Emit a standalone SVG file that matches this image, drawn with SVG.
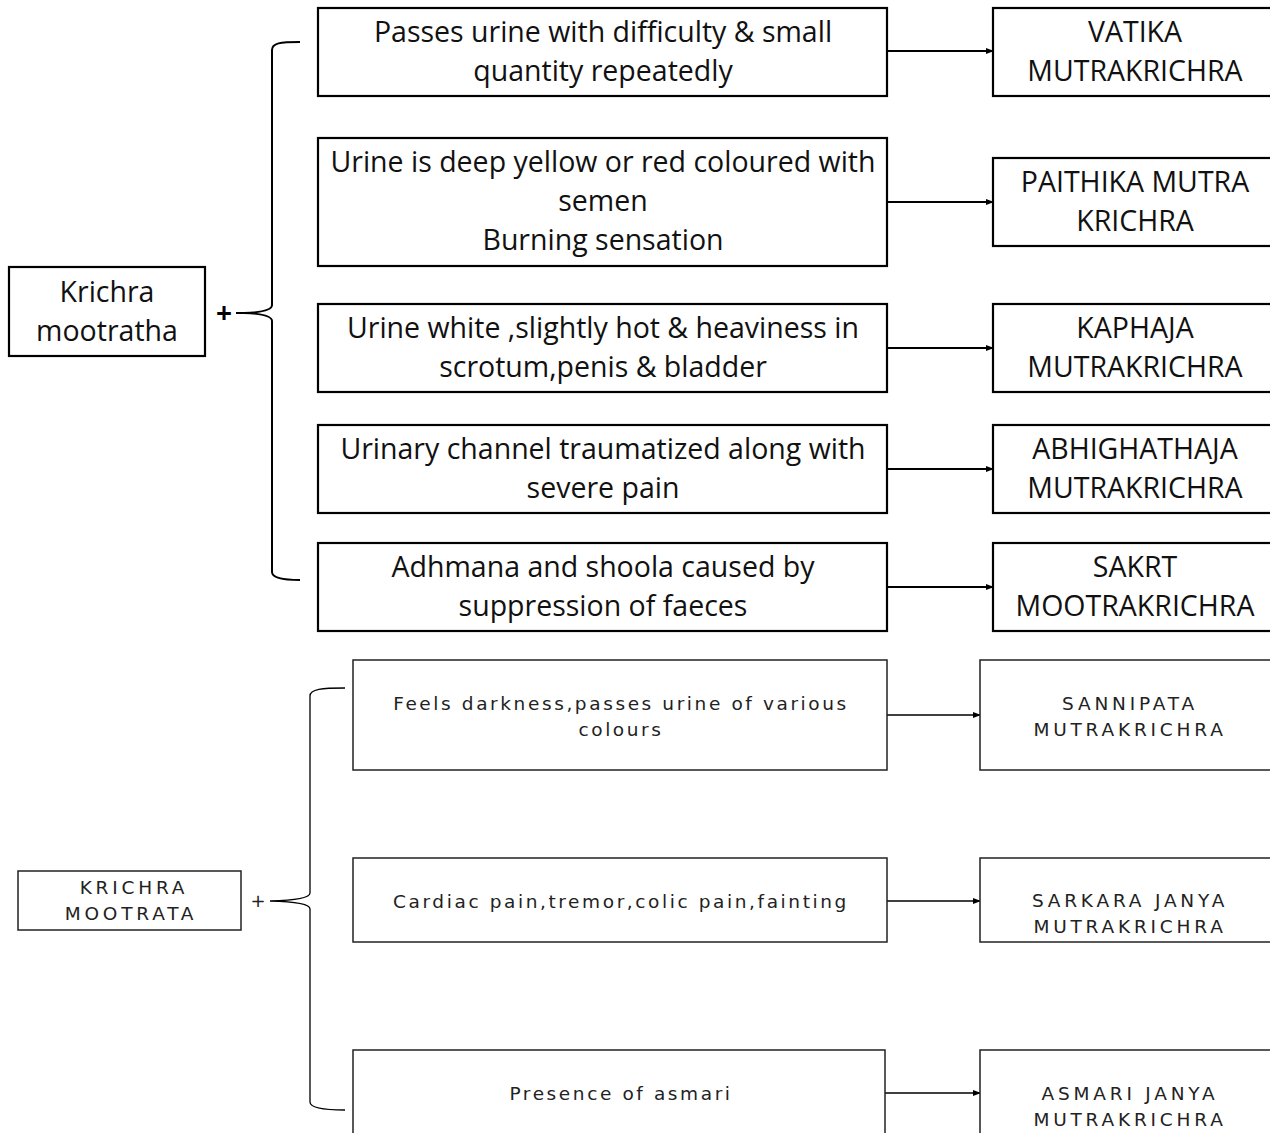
<svg xmlns="http://www.w3.org/2000/svg" width="1270" height="1133" viewBox="0 0 1270 1133">
<defs>
<marker id="ah" markerWidth="8" markerHeight="8" refX="7" refY="4" orient="auto" markerUnits="userSpaceOnUse"><path d="M0,1 L8,4 L0,7 Z" fill="#000"/></marker>
<style>
.b1{fill:#fff;stroke:#000;stroke-width:2.2}
.b2{fill:#fff;stroke:#222;stroke-width:1.5}
.t1{font-family:"Open Sans","Noto Sans",sans-serif;font-size:28.5px;fill:#111;text-anchor:middle}
.t2{font-family:"DejaVu Sans",sans-serif;font-size:18.5px;fill:#222;text-anchor:middle;letter-spacing:2.6px}
.t3{font-family:"DejaVu Sans",sans-serif;font-size:18.5px;fill:#222;text-anchor:middle;letter-spacing:3.8px}
.c1{stroke:#000;stroke-width:2;fill:none}
.c2{stroke:#000;stroke-width:1.3;fill:none}
</style>
</defs>
<rect width="1270" height="1133" fill="#fff"/>
<g id="connectors">
<path class="c1" d="M300,42 C280,42 272,43 272,50 L272,305 Q272,312 244,313 Q272,314 272,321 L272,572 Q272,580 300,580"/>
<line class="c1" x1="236" y1="313" x2="246" y2="313"/>
<line class="c1" x1="887" y1="51" x2="993" y2="51" marker-end="url(#ah)"/>
<line class="c1" x1="887" y1="202" x2="993" y2="202" marker-end="url(#ah)"/>
<line class="c1" x1="887" y1="348" x2="993" y2="348" marker-end="url(#ah)"/>
<line class="c1" x1="887" y1="469" x2="993" y2="469" marker-end="url(#ah)"/>
<line class="c1" x1="887" y1="587" x2="993" y2="587" marker-end="url(#ah)"/>
<path class="c2" d="M345,688 C322,688 310,689 310,696 L310,893 Q310,900 270,901 Q310,902 310,909 L310,1102 Q310,1110 345,1110"/>
<line class="c2" x1="887" y1="715" x2="980" y2="715" marker-end="url(#ah)"/>
<line class="c2" x1="887" y1="901" x2="980" y2="901" marker-end="url(#ah)"/>
<line class="c2" x1="885" y1="1093" x2="980" y2="1093" marker-end="url(#ah)"/>
</g>
<g id="n-krichra-mootratha"><rect class="b1" x="9" y="267" width="196" height="89"/><text class="t1" x="107" y="302">Krichra</text><text class="t1" x="107" y="341">mootratha</text></g>
<text x="224" y="323" font-family="Open Sans,sans-serif" font-size="28" font-weight="bold" text-anchor="middle">+</text>
<g id="n-s1"><rect class="b1" x="318" y="8" width="569" height="88"/><text class="t1" x="603" y="42">Passes urine with difficulty &amp; small</text><text class="t1" x="603" y="81">quantity repeatedly</text></g>
<g id="n-s2"><rect class="b1" x="318" y="138" width="569" height="128"/><text class="t1" x="603" y="172">Urine is deep yellow or red coloured with</text><text class="t1" x="603" y="211">semen</text><text class="t1" x="603" y="250">Burning sensation</text></g>
<g id="n-s3"><rect class="b1" x="318" y="304" width="569" height="88"/><text class="t1" x="603" y="338">Urine white ,slightly hot &amp; heaviness in</text><text class="t1" x="603" y="377">scrotum,penis &amp; bladder</text></g>
<g id="n-s4"><rect class="b1" x="318" y="425" width="569" height="88"/><text class="t1" x="603" y="459">Urinary channel traumatized along with</text><text class="t1" x="603" y="498">severe pain</text></g>
<g id="n-s5"><rect class="b1" x="318" y="543" width="569" height="88"/><text class="t1" x="603" y="577">Adhmana and shoola caused by</text><text class="t1" x="603" y="616">suppression of faeces</text></g>
<g id="n-r1"><rect class="b1" x="993" y="8" width="290" height="88"/><text class="t1" x="1135" y="42">VATIKA</text><text class="t1" x="1135" y="81">MUTRAKRICHRA</text></g>
<g id="n-r2"><rect class="b1" x="993" y="158" width="290" height="88"/><text class="t1" x="1135" y="192">PAITHIKA MUTRA</text><text class="t1" x="1135" y="231">KRICHRA</text></g>
<g id="n-r3"><rect class="b1" x="993" y="304" width="290" height="88"/><text class="t1" x="1135" y="338">KAPHAJA</text><text class="t1" x="1135" y="377">MUTRAKRICHRA</text></g>
<g id="n-r4"><rect class="b1" x="993" y="425" width="290" height="88"/><text class="t1" x="1135" y="459">ABHIGHATHAJA</text><text class="t1" x="1135" y="498">MUTRAKRICHRA</text></g>
<g id="n-r5"><rect class="b1" x="993" y="543" width="290" height="88"/><text class="t1" x="1135" y="577">SAKRT</text><text class="t1" x="1135" y="616">MOOTRAKRICHRA</text></g>
<g id="n-krichra-mootrata"><rect class="b2" x="18" y="871" width="223" height="59"/><text class="t3" x="134" y="894">KRICHRA</text><text class="t3" x="131" y="920">MOOTRATA</text></g>
<text x="258" y="907" font-family="DejaVu Sans,sans-serif" font-size="18" text-anchor="middle" fill="#222">+</text>
<g id="n-b1"><rect class="b2" x="353" y="660" width="534" height="110"/><text class="t2" x="621" y="710">Feels darkness,passes urine of various</text><text class="t2" x="621" y="736">colours</text></g>
<g id="n-b2"><rect class="b2" x="353" y="858" width="534" height="84"/><text class="t2" x="621" y="908">Cardiac pain,tremor,colic pain,fainting</text></g>
<g id="n-b3"><rect class="b2" x="353" y="1050" width="532" height="100"/><text class="t2" x="621" y="1100">Presence of asmari</text></g>
<g id="n-r6"><rect class="b2" x="980" y="660" width="300" height="110"/><text class="t3" x="1130" y="710">SANNIPATA</text><text class="t3" x="1130" y="736">MUTRAKRICHRA</text></g>
<g id="n-r7"><rect class="b2" x="980" y="858" width="300" height="84"/><text class="t3" x="1130" y="907">SARKARA JANYA</text><text class="t3" x="1130" y="933">MUTRAKRICHRA</text></g>
<g id="n-r8"><rect class="b2" x="980" y="1050" width="300" height="100"/><text class="t3" x="1130" y="1100">ASMARI JANYA</text><text class="t3" x="1130" y="1126">MUTRAKRICHRA</text></g>
</svg>
